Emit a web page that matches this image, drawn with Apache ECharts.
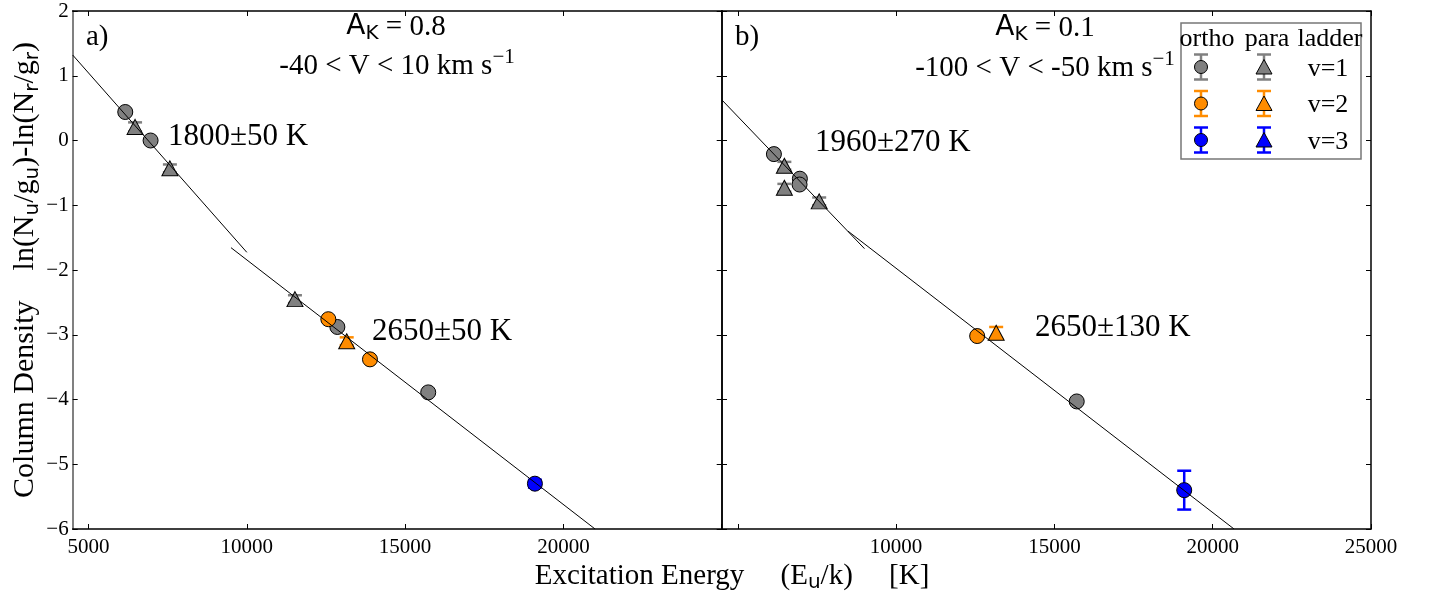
<!DOCTYPE html>
<html>
<head>
<meta charset="utf-8">
<script src="https://cdn.jsdelivr.net/npm/echarts@6/dist/echarts.min.js"></script>
<style>
  html, body { margin: 0; padding: 0; background: #fff; }
  #chart { width: 1435px; height: 599px; }
</style>
</head>
<body>
<div id="chart"></div>
<script>
// points are [E_u/k, ln(Nu/gu)-ln(Nr/gr), error]
const orthoA_v1 = [[6160, 0.44, 0.03], [6960, 0.0, 0.03], [12860, -2.88, 0.03], [15730, -3.89, 0.03]];
const paraA_v1 = [[6470, 0.21, 0.07], [7570, -0.43, 0.06], [11520, -2.45, 0.06]];
const orthoA_v2 = [[12575, -2.76, 0.03], [13890, -3.38, 0.03]];
const paraA_v2 = [[13155, -3.10, 0.06]];
const orthoA_v3 = [[19100, -5.30, 0.06]];

const orthoB_v1 = [[6140, -0.21, 0.03], [6960, -0.59, 0.03], [6950, -0.68, 0.03], [15705, -4.03, 0.03]];
const paraB_v1 = [[6470, -0.39, 0.06], [6470, -0.73, 0.06], [7570, -0.94, 0.06]];
const orthoB_v2 = [[12560, -3.02, 0.03]];
const paraB_v2 = [[13160, -2.97, 0.09]];
const orthoB_v3 = [[19100, -5.40, 0.30]];

// fitted lines (two endpoints each)
const fitA_low = [[4500, 1.32], [10000, -1.727]];
const fitA_high = [[9500, -1.655], [21000, -6.0]];
const fitB_low = [[4500, 0.625], [9000, -1.67]];
const fitB_high = [[8480, -1.40], [20674, -6.0]];

const xLabelsA = [5000, 10000, 15000, 20000];
const xLabelsB = [10000, 15000, 20000, 25000];
const xTickVals = [5000, 10000, 15000, 20000, 25000];
const legendRows = ['v=1', 'v=2', 'v=3'];

const colV = ['#808080', '#ff8c00', '#0000ff'];
const SERIF = 'Liberation Serif';
const SANS = 'DejaVu Sans';

const myChart = echarts.init(document.getElementById('chart'));

const axisLine = {show: true, onZero: false, lineStyle: {color: '#000', width: 1.5}};
const tick = {show: true, inside: true, length: 5, lineStyle: {color: '#000', width: 1}};
const minus = v => (v < 0 ? '\u2212' + Math.abs(v) : String(v));

function xAx(grid, pos, labels) {
    return {
        type: 'value', gridIndex: grid, position: pos, min: 4500, max: 25000,
        axisLine: axisLine, splitLine: {show: false},
        axisTick: Object.assign({}, tick, {customValues: xTickVals}),
        axisLabel: labels ? {show: true, customValues: labels, margin: 8, color: '#000', fontFamily: SERIF, fontSize: 21,
                             formatter: v => String(v)}
                          : {show: false}
    };
}
function yAx(grid, pos, labels, extra) {
    return Object.assign({
        type: 'value', gridIndex: grid, position: pos, min: -6, max: 2, interval: 1,
        axisLine: axisLine, splitLine: {show: false},
        axisTick: tick,
        axisLabel: labels ? {show: true, margin: 4, color: '#000', fontFamily: SERIF, fontSize: 21, formatter: minus}
                          : {show: false}
    }, extra || {});
}

function errSeries(data, color, xi) {
    return {
        type: 'custom', xAxisIndex: xi, yAxisIndex: xi, z: 2,
        data: data, encode: {x: 0, y: 1},
        renderItem: function (params, api) {
            const x = api.value(0), y = api.value(1), e = api.value(2);
            const t = api.coord([x, y + e]), b = api.coord([x, y - e]);
            const hw = 7;
            const st = {stroke: color, lineWidth: 2.5};
            return {type: 'group', children: [
                {type: 'line', shape: {x1: t[0], y1: t[1], x2: b[0], y2: b[1]}, style: st},
                {type: 'line', shape: {x1: t[0] - hw, y1: t[1], x2: t[0] + hw, y2: t[1]}, style: st},
                {type: 'line', shape: {x1: b[0] - hw, y1: b[1], x2: b[0] + hw, y2: b[1]}, style: st}
            ]};
        }
    };
}
function pts(data, color, symbol, xi) {
    return {
        type: 'scatter', xAxisIndex: xi, yAxisIndex: xi, z: 3,
        data: data.map(d => [d[0], d[1]]),
        symbol: symbol, symbolSize: symbol === 'circle' ? 15 : [16, 15],
        itemStyle: {color: color, borderColor: '#000', borderWidth: 1, opacity: 1}
    };
}
function fit(data, xi) {
    return {
        type: 'line', xAxisIndex: xi, yAxisIndex: xi, z: 4, data: data,
        showSymbol: false, symbol: 'none', lineStyle: {color: '#000', width: 1}
    };
}

const panels = [
    {xi: 0, sets: [[orthoA_v1, 0, 'circle'], [paraA_v1, 0, 'triangle'], [orthoA_v2, 1, 'circle'], [paraA_v2, 1, 'triangle'], [orthoA_v3, 2, 'circle']], fits: [fitA_low, fitA_high]},
    {xi: 2, sets: [[orthoB_v1, 0, 'circle'], [paraB_v1, 0, 'triangle'], [orthoB_v2, 1, 'circle'], [paraB_v2, 1, 'triangle'], [orthoB_v3, 2, 'circle']], fits: [fitB_low, fitB_high]}
];
const series = [];
panels.forEach(p => {
    p.sets.forEach(s => series.push(errSeries(s[0], colV[s[1]], p.xi)));
    p.sets.forEach(s => series.push(pts(s[0], colV[s[1]], s[2], p.xi)));
    p.fits.forEach(f => series.push(fit(f, p.xi)));
});

const rich = {
    s: {fontFamily: SERIF, fontSize: 29, color: '#000'},
    y: {fontFamily: SERIF, fontSize: 30, color: '#000'},
    big: {fontFamily: SANS, fontSize: 28, color: '#000'},
    sub: {fontFamily: SANS, fontSize: 20, color: '#000', padding: [14, 0, 0, 0]},
    sup: {fontFamily: SERIF, fontSize: 21, color: '#000', padding: [0, 0, 18, 0]}
};
function txt(x, y, text, align, size) {
    return {type: 'text', x: x, y: y, z: 10, style: {
        text: text, rich: rich, textAlign: align || 'center', textVerticalAlign: 'middle',
        fontFamily: SERIF, fontSize: size || 29, fill: '#000'
    }};
}

const graphic = [
    txt(86, 37, 'a)', 'left'),
    txt(735, 37, 'b)', 'left'),
    txt(396, 27, '{big|A}{sub|K}{s| = 0.8}'),
    txt(1045, 28, '{big|A}{sub|K}{s| = 0.1}'),
    txt(397, 66, '{s|-40 < V < 10 km s}{sup|\u22121}'),
    txt(1045, 68, '{s|-100 < V < -50 km s}{sup|\u22121}'),
    txt(168, 137, '1800\u00b150 K', 'left', 31),
    txt(372, 332, '2650\u00b150 K', 'left', 31),
    txt(815, 143, '1960\u00b1270 K', 'left', 31),
    txt(1035, 328, '2650\u00b1130 K', 'left', 31),
    txt(732, 576, '{s|Excitation Energy     (E}{sub|u}{s|/k)     [K]}')
];

// legend box drawn by hand (ortho / para columns, v rows)
graphic.push({type: 'rect', z: 10, shape: {x: 1181, y: 23, width: 180, height: 136},
    style: {fill: '#fff', stroke: '#777', lineWidth: 1.5}});
graphic.push(txt(1207, 39, 'ortho', 'center', 26), txt(1267, 39, 'para', 'center', 26), txt(1330, 39, 'ladder', 'center', 26));
legendRows.forEach((lab, i) => {
    const cy = 67 + i * 36.5;
    const col = colV[i];
    [1201, 1264].forEach((cx, j) => {
        const st = {stroke: col, lineWidth: 2.5};
        graphic.push(
            {type: 'line', z: 11, shape: {x1: cx, y1: cy - 12.5, x2: cx, y2: cy + 12.5}, style: st},
            {type: 'line', z: 11, shape: {x1: cx - 7, y1: cy - 12.5, x2: cx + 7, y2: cy - 12.5}, style: st},
            {type: 'line', z: 11, shape: {x1: cx - 7, y1: cy + 12.5, x2: cx + 7, y2: cy + 12.5}, style: st}
        );
        if (j === 0) {
            graphic.push({type: 'circle', z: 12, shape: {cx: cx, cy: cy, r: 6.5}, style: {fill: col, stroke: '#000', lineWidth: 1}});
        } else {
            graphic.push({type: 'polygon', z: 12, shape: {points: [[cx, cy - 7.5], [cx - 8, cy + 7], [cx + 8, cy + 7]]},
                style: {fill: col, stroke: '#000', lineWidth: 1}});
        }
    });
    graphic.push(txt(1328, cy + 2, lab, 'center', 26));
});

const option = {
    animation: false,
    backgroundColor: '#fff',
    grid: [
        {left: 72.7, top: 11, width: 649, height: 518},
        {left: 722, top: 11, width: 649, height: 518}
    ],
    xAxis: [xAx(0, 'bottom', xLabelsA), xAx(0, 'top', null), xAx(1, 'bottom', xLabelsB), xAx(1, 'top', null)],
    yAxis: [
        yAx(0, 'left', true, {
            axisLine: {show: true, onZero: false, lineStyle: {color: '#808080', width: 2}},
            name: '{y|Column Density    ln(N}{sub|u}{y|/g}{sub|u}{y|)-ln(N}{sub|r}{y|/g}{sub|r}{y|)}',
            nameLocation: 'middle', nameRotate: 90, nameGap: 24,
            nameTextStyle: {rich: rich}
        }),
        yAx(0, 'right', false), yAx(1, 'left', false), yAx(1, 'right', false)
    ],
    series: series,
    graphic: graphic
};
myChart.setOption(option);
</script>
</body>
</html>
